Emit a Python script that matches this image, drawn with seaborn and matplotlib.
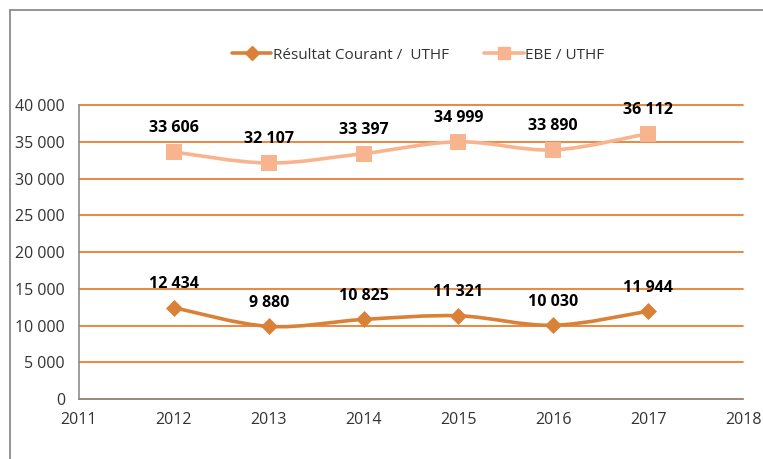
import numpy as np
import pandas as pd
import seaborn as sns
import matplotlib.pyplot as plt
from matplotlib.path import Path
from matplotlib.patches import PathPatch, Rectangle
from matplotlib.lines import Line2D

# data
years = [2012, 2013, 2014, 2015, 2016, 2017]
resultat = [12434, 9880, 10825, 11321, 10030, 11944]
ebe = [33606, 32107, 33397, 34999, 33890, 36112]
x_ticks = list(range(2011, 2019))
y_ticks = list(range(0, 40001, 5000))

df = pd.DataFrame({"year": years, "Résultat Courant /  UTHF": resultat, "EBE / UTHF": ebe})

sns.set_style("white")
plt.rcParams["font.family"] = ["Open Sans", "DejaVu Sans"]

col_res = "#DA8138"
col_ebe = "#F8B48E"
col_grid = "#E8741E"
col_axis = "#8C8C8C"


def fmt(v):
    return f"{v:,}".replace(",", " ")


def smooth_path(xs, ys):
    # Excel-like smoothed line: cubic bezier through the points
    pts = np.column_stack([xs, ys]).astype(float)
    ext = np.vstack([pts[0], pts, pts[-1]])
    verts = [tuple(pts[0])]
    codes = [Path.MOVETO]
    for i in range(len(pts) - 1):
        p0, p1, p2, p3 = ext[i], ext[i + 1], ext[i + 2], ext[i + 3]
        c1 = p1 + (p2 - p0) / 6
        c2 = p2 - (p3 - p1) / 6
        verts += [tuple(c1), tuple(c2), tuple(p2)]
        codes += [Path.CURVE4] * 3
    return Path(verts, codes)


fig = plt.figure(figsize=(7.63, 4.59), dpi=100)
ax = fig.add_axes([0.1035, 0.1307, 0.8703, 0.6405])

for col, color, marker, ms in [("Résultat Courant /  UTHF", col_res, "D", 75),
                                ("EBE / UTHF", col_ebe, "s", 125)]:
    ax.add_patch(PathPatch(smooth_path(df["year"], df[col]), facecolor="none",
                           edgecolor=color, lw=2.6, zorder=3, capstyle="round"))
    sns.scatterplot(data=df, x="year", y=col, marker=marker, s=ms, color=color,
                    edgecolor=color, linewidth=0, ax=ax, zorder=4)
    for xv, yv in zip(df["year"], df[col]):
        ax.annotate(fmt(yv), (xv, yv), xytext=(0, 17), textcoords="offset points",
                    ha="center", va="center", fontsize=11.5, fontweight="bold",
                    color="black", zorder=5)

ax.set_xlim(2011, 2018)
ax.set_ylim(0, 40000)
ax.set_xticks(x_ticks)
ax.set_yticks(y_ticks)
ax.set_yticklabels([fmt(v) for v in y_ticks])
ax.set_xlabel("")
ax.set_ylabel("")
ax.grid(axis="y", color=col_grid, lw=1.2)
ax.grid(axis="x", visible=False)
for gl in ax.get_ygridlines():
    gl.set_clip_on(False)
ax.set_axisbelow(True)
for s in ["top", "right"]:
    ax.spines[s].set_visible(False)
for s in ["left", "bottom"]:
    ax.spines[s].set_color(col_axis)
    ax.spines[s].set_linewidth(1.2)
    ax.spines[s].set_zorder(2.5)
ax.tick_params(axis="both", direction="out", length=4.5, width=1.2, color=col_axis,
               labelsize=11.5, labelcolor="#333333")
ax.tick_params(axis="y", pad=5.5)
ax.tick_params(axis="x", pad=5)

handles = [
    Line2D([], [], color=col_res, lw=2.6, marker="D", ms=7, label="Résultat Courant /  UTHF"),
    Line2D([], [], color=col_ebe, lw=2.6, marker="s", ms=9, label="EBE / UTHF"),
]
fig.legend(handles=handles, loc="center", bbox_to_anchor=(0.548, 0.88), ncol=2,
           frameon=False, fontsize=11, handlelength=2.6, columnspacing=2.3,
           handletextpad=0.1, labelcolor="#333333")

# outer chart border
fig.patches.append(Rectangle((10 / 763, -0.1), 1.2, 1 - 10 / 459 + 0.1,
                             transform=fig.transFigure, fill=False,
                             edgecolor=col_axis, lw=1.3))

fig.savefig("out.png", dpi=100)
